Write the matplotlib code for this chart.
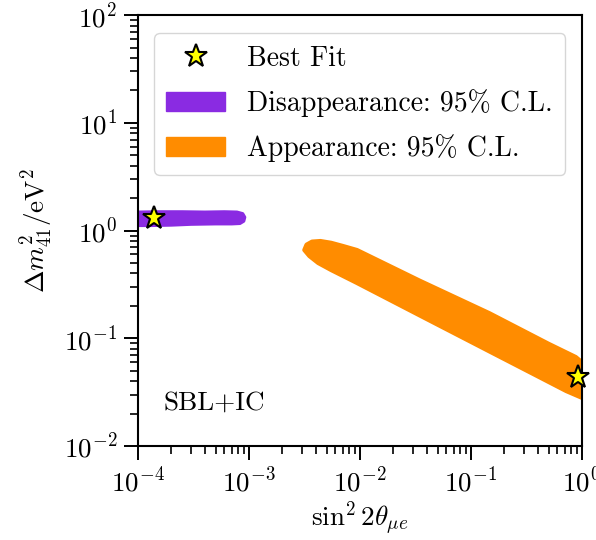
import matplotlib
matplotlib.use('Agg')
import matplotlib.pyplot as plt
from matplotlib.lines import Line2D
from matplotlib.patches import Patch

plt.rcParams['font.family'] = 'serif'
plt.rcParams['font.serif'] = ['cmr10']
plt.rcParams['mathtext.fontset'] = 'cm'
plt.rcParams['axes.formatter.use_mathtext'] = True

# Disappearance 95% C.L. region outline (sin^2 2theta, dm2)
dis_x = [1.0e-4, 1.5e-4, 2.5e-4, 4e-4, 6e-4, 7.8e-4, 8.8e-4, 9.2e-4, 9.0e-4,
         8.3e-4, 7e-4, 5e-4, 3e-4, 2e-4, 1.3e-4, 1.0e-4]
dis_y = [1.49, 1.50, 1.50, 1.49, 1.50, 1.49, 1.44, 1.33, 1.22,
         1.16, 1.15, 1.15, 1.14, 1.12, 1.11, 1.11]

# Appearance 95% C.L. region outline
app_x = [3.15e-3, 3.3e-3, 3.7e-3, 4.4e-3, 5.5e-3, 7e-3, 9.4e-3, 0.0345, 0.1466,
         0.50, 0.88, 1.0,
         1.0, 0.72, 0.40, 0.1466, 0.0345, 9.4e-3, 5.5e-3, 4.2e-3, 3.5e-3]
app_y = [0.66, 0.74, 0.79, 0.80, 0.77, 0.72, 0.66, 0.343, 0.171,
         0.089, 0.067, 0.060,
         0.028, 0.0324, 0.0443, 0.0755, 0.163, 0.326, 0.43, 0.50, 0.58]

# best-fit points
bf_x = [1.4e-4, 0.93]
bf_y = [1.31, 0.044]

fig = plt.figure(figsize=(5.96, 5.40), dpi=100)
ax = fig.add_axes([0.2315, 0.174, 0.745, 0.798])

ax.fill(app_x, app_y, color='darkorange', lw=3, ec='darkorange', joinstyle='round')
ax.fill(dis_x, dis_y, color='blueviolet', lw=2, ec='blueviolet', joinstyle='round')
ax.plot(bf_x, bf_y, ls='none', marker='*', ms=17, mfc='yellow', mec='black',
        mew=1.5, zorder=5, clip_on=False)

ax.set_xscale('log')
ax.set_yscale('log')
ax.set_xlim(1e-4, 1)
ax.set_ylim(1e-2, 1e2)

ax.set_xlabel(r'$\sin^2 2\theta_{\mu e}$', fontsize=19.5, labelpad=2)
ax.set_ylabel(r'$\Delta m^2_{41}/\mathrm{eV}^2$', fontsize=19.5, labelpad=6)
ax.tick_params(which='major', length=10, width=1.4, labelsize=19.5,
               top=False, right=False, direction='out', pad=5)
ax.tick_params(which='minor', length=5.5, width=1.2, top=False, right=False)
for s in ax.spines.values():
    s.set_linewidth(1.5)

ax.text(0.057, 0.085, 'SBL+IC', transform=ax.transAxes, fontsize=19.5)

handles = [
    Line2D([], [], ls='none', marker='*', ms=17, mfc='yellow', mec='black', mew=1.5),
    Patch(color='blueviolet'),
    Patch(color='darkorange'),
]
labels = ['Best Fit', 'Disappearance: 95% C.L.', 'Appearance: 95% C.L.']
ax.legend(handles, labels, loc='upper left', bbox_to_anchor=(0.036, 0.958),
          borderaxespad=0, fontsize=20, handlelength=2.1, borderpad=0.45,
          labelspacing=0.62, handletextpad=0.8)

fig.savefig('out.png', dpi=100)
